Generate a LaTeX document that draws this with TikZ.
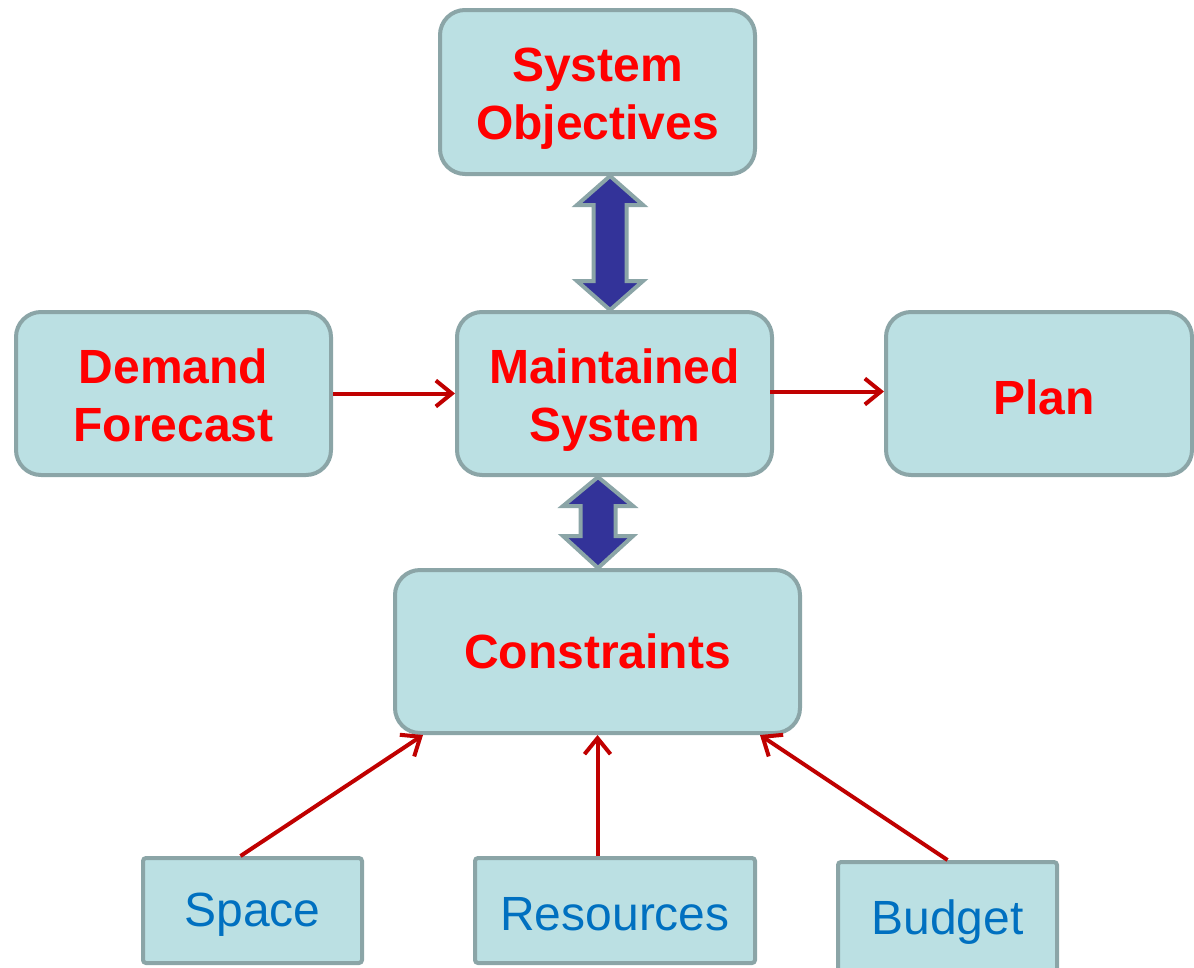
\documentclass[tikz,border=0pt]{standalone}
\usepackage{fontspec}
\setmainfont{Liberation Sans}
\usetikzlibrary{arrows.meta,calc}
\definecolor{boxfill}{HTML}{BBE0E3}
\definecolor{boxline}{HTML}{8BA5A7}
\definecolor{txtred}{HTML}{FF0000}
\definecolor{txtblue}{HTML}{0070C0}
\definecolor{arrred}{HTML}{C00000}
\definecolor{blockblue}{HTML}{333399}
\newcommand\twolines[1]{\raisebox{-7pt}[\height][\depth]{\begin{tabular}{@{}c@{}}#1\end{tabular}}}
\newcommand\lowered[1]{\raisebox{-4pt}[\height][\depth]{#1}}
\tikzset{
  bigbox/.style={draw=boxline, fill=boxfill, line width=4pt, rounded corners=25pt,
    text=txtred, font=\fontsize{48}{58}\selectfont\bfseries, align=center, inner sep=0pt},
  smallbox/.style={draw=boxline, fill=boxfill, line width=4pt, rounded corners=3pt,
    text=txtblue, font=\fontsize{48}{58}\selectfont, align=center, inner sep=0pt},
  redarrow/.style={draw=arrred, line width=4pt, -{Straight Barb[length=16pt,width=26pt,line width=4pt]}},
  blockarrow/.style={draw=boxline, fill=blockblue, line width=4pt, line join=miter},
}
\begin{document}
\begin{tikzpicture}[x=1pt,y=-1pt]
\useasboundingbox (0,0) rectangle (1194,967);
\node[bigbox, minimum width=315pt, minimum height=164pt] (obj) at (597.5,92) {\twolines{System\\Objectives}};
\node[bigbox, minimum width=315pt, minimum height=163pt] (dem) at (173.5,393.5) {\twolines{Demand\\Forecast}};
\node[bigbox, minimum width=315pt, minimum height=163pt] (ms) at (614.5,393.5) {\twolines{Maintained\\System}};
\node[bigbox, minimum width=306pt, minimum height=163pt] (plan) at (1039,393.5) {\hspace*{10pt}\lowered{Plan}};
\node[bigbox, minimum width=405pt, minimum height=163pt] (con) at (597.5,651.5) {Constraints};
\node[smallbox, minimum width=219pt, minimum height=105pt] (spa) at (252.5,910.5) {\lowered{Space}};
\node[smallbox, minimum width=280pt, minimum height=105pt] (res) at (615,910.5) {\lowered{Resources}};
\node[smallbox, minimum width=219pt, minimum height=112pt] (bud) at (947.5,918) {\lowered{Budget}};
% red arrows
\draw[redarrow] (dem.east) -- (ms.west);
\draw[redarrow] ($(ms.east)+(-4,-2)$) -- ($(plan.west)+(0,-2)$);
\draw[redarrow] ($(spa.north)+(-12,0)$) -- ($(con.south west)+(30,0)$);
\draw[redarrow] (res.north -| con.south) -- (con.south);
\draw[redarrow] (bud.north) -- ($(con.south east)+(-42,0)$);
% block double arrows
\coordinate (t1) at ($(obj.south)+(12.5,0)$);
\coordinate (b1) at (t1 |- ms.north);
\draw[blockarrow] (t1) -- ++(33,29) -- ++(-16.5,0) -- ($(b1)+(16.5,-29)$) -- ++(16.5,0) -- (b1)
  -- ++(-33,-29) -- ++(16.5,0) -- ($(t1)+(-16.5,29)$) -- ++(-16.5,0) -- cycle;
\coordinate (t2) at ($(ms.south)+(-16.5,0)$);
\coordinate (b2) at (t2 |- con.north);
\draw[blockarrow] (t2) -- ++(35,29) -- ++(-17.5,0) -- ($(b2)+(17.5,-32)$) -- ++(17.5,0) -- (b2)
  -- ++(-35,-32) -- ++(17.5,0) -- ($(t2)+(-17.5,29)$) -- ++(-17.5,0) -- cycle;
\end{tikzpicture}
\end{document}
